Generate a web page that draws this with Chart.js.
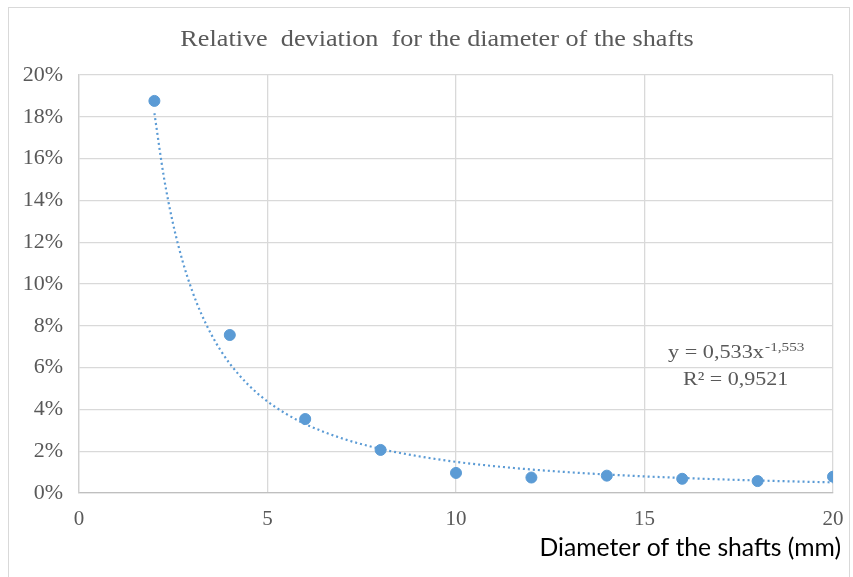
<!DOCTYPE html>
<html><head><meta charset="utf-8">
<script src="https://cdn.jsdelivr.net/npm/chart.js@4"></script>
<style>html,body{margin:0;padding:0;background:#fff}#wrap{width:853px;height:577px;position:relative}</style>
</head><body><div id="wrap"><canvas id="c" width="853" height="577"></canvas></div>
<script>
const chartTitle = "Relative  deviation  for the diameter of the shafts";
const xAxisTitle = "Diameter of the shafts (mm)";
const equationText = "y = 0,533x";
const equationExp = "-1,553";
const r2Text = "R\u00B2 = 0,9521";
const diameters = [2, 4, 6, 8, 10, 12, 14, 16, 18, 20];
const deviations = [0.1876, 0.0756, 0.0354, 0.0206, 0.0096, 0.0074, 0.0083, 0.0068, 0.0057, 0.0078];
const trendX = [2, 2.25, 2.5, 2.75, 3, 3.25, 3.5, 3.75, 4, 4.5, 5, 5.5, 6, 7, 8, 9, 10, 11, 12, 13, 14, 15, 16, 17, 18, 19, 20];
const trendY = [0.1817, 0.1513, 0.1284, 0.1108, 0.0968, 0.0855, 0.0762, 0.0684, 0.0619, 0.0516, 0.0438, 0.0378, 0.0330, 0.0260, 0.0211, 0.0176, 0.0149, 0.01287, 0.01124, 0.00993, 0.00885, 0.00795, 0.00719, 0.00654, 0.00599, 0.00551, 0.00508];
const xTicks = [0, 5, 10, 15, 20];
const yTicks = [0, 0.02, 0.04, 0.06, 0.08, 0.10, 0.12, 0.14, 0.16, 0.18, 0.20];

const blue = '#5b9bd5';
const grey = '#595959';
const grid = '#d9d9d9';

const decor = {
  id: 'decor',
  beforeDraw(chart) {
    const ctx = chart.ctx;
    ctx.save();
    ctx.fillStyle = '#fff';
    ctx.fillRect(0, 0, chart.width, chart.height);
    ctx.strokeStyle = '#d9d9d9';
    ctx.lineWidth = 1;
    ctx.strokeRect(8.5, 7.5, 841, 600);
    ctx.restore();
  },
  afterDraw(chart) {
    const ctx = chart.ctx;
    ctx.save();
    ctx.fillStyle = grey;
    ctx.textAlign = 'center';
    ctx.textBaseline = 'alphabetic';
    ctx.font = '23px "Liberation Serif", serif';
    ctx.translate(437, 46);
    ctx.scale(1.14, 1);
    ctx.fillText(chartTitle, 0, 0);
    ctx.restore();

    ctx.save();
    ctx.fillStyle = grey;
    ctx.textBaseline = 'alphabetic';
    ctx.font = '19px "Liberation Serif", serif';
    ctx.translate(668, 358);
    ctx.scale(1.17, 1);
    ctx.textAlign = 'left';
    ctx.fillText(equationText, 0, 0);
    const w = ctx.measureText(equationText).width;
    ctx.font = '13px "Liberation Serif", serif';
    ctx.fillText(equationExp, w + 1, -7);
    ctx.restore();
    ctx.save();
    ctx.fillStyle = grey;
    ctx.font = '19px "Liberation Serif", serif';
    ctx.translate(683, 385);
    ctx.scale(1.16, 1);
    ctx.textAlign = 'left';
    ctx.fillText(r2Text, 0, 0);
    ctx.restore();

    ctx.save();
    ctx.fillStyle = '#000';
    ctx.font = '20px Lato, sans-serif';
    const tw = ctx.measureText(xAxisTitle).width;
    const fs = 20 * 302 / tw;
    ctx.font = fs.toFixed(1) + 'px Lato, sans-serif';
    ctx.textAlign = 'right';
    ctx.textBaseline = 'middle';
    ctx.fillText(xAxisTitle, 841, 548);
    ctx.restore();
  }
};

new Chart(document.getElementById('c'), {
  type: 'scatter',
  data: {
    datasets: [
      {
        label: 'Relative deviation',
        data: diameters.map((x, i) => ({x: x, y: deviations[i]})),
        backgroundColor: blue,
        borderColor: blue,
        pointRadius: 5.5,
        pointHoverRadius: 5.5,
        order: 0
      },
      {
        label: 'Power trend',
        type: 'line',
        data: trendX.map((x, i) => ({x: x, y: trendY[i]})),
        borderColor: blue,
        borderWidth: 2.2,
        borderDash: [2, 3],
        pointRadius: 0,
        fill: false,
        cubicInterpolationMode: 'monotone',
        order: 1
      }
    ]
  },
  plugins: [decor],
  options: {
    responsive: false,
    animation: false,
    layout: { padding: { top: 75, right: 20, left: 0, bottom: 0 } },
    plugins: { legend: { display: false }, title: { display: false }, tooltip: { enabled: false } },
    scales: {
      x: {
        type: 'linear',
        min: 0, max: 20,
        afterBuildTicks(s) { s.ticks = xTicks.map(v => ({value: v})); },
        afterFit(s) { s.height = 84; s.paddingLeft = 0; s.paddingRight = 0; },
        grid: { color: grid, lineWidth: 1.3, drawTicks: false },
        border: { color: '#bfbfbf', width: 1.3 },
        ticks: { color: grey, font: { family: '"Liberation Serif", serif', size: 21 }, padding: 14, maxRotation: 0 }
      },
      y: {
        type: 'linear',
        min: 0, max: 0.2,
        afterBuildTicks(s) { s.ticks = yTicks.map(v => ({value: v})); },
        afterFit(s) { s.width = 79; s.paddingTop = 0; s.paddingBottom = 0; },
        grid: { color: grid, lineWidth: 1.3, drawTicks: false },
        border: { color: '#d0d0d0', width: 1.3 },
        ticks: { color: grey, font: { family: '"Liberation Serif", serif', size: 22 }, padding: 16,
          callback: v => Math.round(v * 100) + '%' }
      }
    }
  }
});
</script>
</body></html>
